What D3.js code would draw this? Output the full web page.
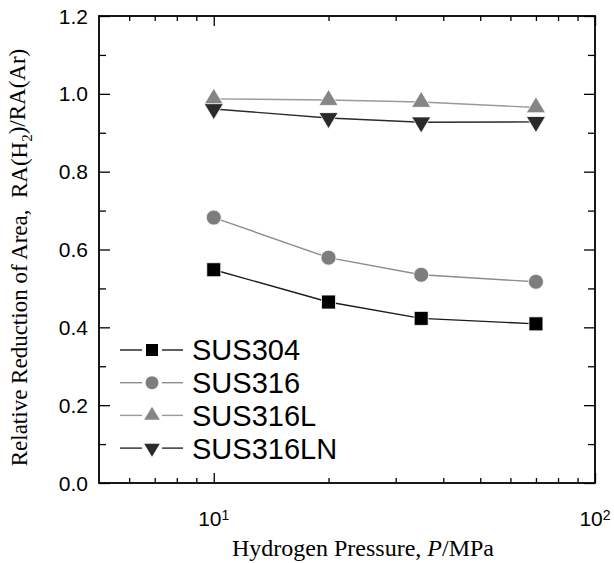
<!DOCTYPE html>
<html>
<head>
<meta charset="utf-8">
<script src="https://cdn.jsdelivr.net/npm/d3@7"></script>
<style>
  body { margin: 0; background: #fff; }
  text { fill: #000; }
</style>
</head>
<body>
<div id="chart"></div>
<script>
// data
var pressure = [10, 20, 35, 70];
var sus304   = [0.548, 0.465, 0.423, 0.409];
var sus316   = [0.682, 0.579, 0.535, 0.517];
var sus316L  = [0.987, 0.984, 0.979, 0.965];
var sus316LN = [0.961, 0.938, 0.927, 0.928];
var seriesNames = ["SUS304", "SUS316", "SUS316L", "SUS316LN"];

var xMajor = [10, 100];
var xMinor = [6, 7, 8, 9, 20, 30, 40, 50, 60, 70, 80, 90];
var yMajor = [0, 0.2, 0.4, 0.6, 0.8, 1.0, 1.2];
var yMinor = [0.1, 0.3, 0.5, 0.7, 0.9, 1.1];

// set the dimensions and margins of the graph
var margin = {top: 16, right: 19, bottom: 80, left: 99},
    width = 614 - margin.left - margin.right,
    height = 563 - margin.top - margin.bottom;

var svg = d3.select("#chart")
  .append("svg")
    .attr("width", width + margin.left + margin.right)
    .attr("height", height + margin.top + margin.bottom)
  .append("g")
    .attr("transform", "translate(" + margin.left + "," + margin.top + ")");

var x = d3.scaleLog().domain([5, 100]).range([0, width]);
var y = d3.scaleLinear().domain([0, 1.2]).range([height, 0]);

// inward ticks on all four sides
function ticks(axis, vals, len) {
  return axis.tickValues(vals).tickSizeInner(-len).tickSizeOuter(0).tickFormat("");
}
function styleAxis(g) {
  g.select(".domain").remove();
  g.selectAll("line").attr("stroke", "#000").attr("stroke-width", 1.3);
}
svg.append("g").attr("transform", "translate(0," + height + ")")
  .call(ticks(d3.axisBottom(x), xMajor, 10)).call(styleAxis);
svg.append("g").attr("transform", "translate(0," + height + ")")
  .call(ticks(d3.axisBottom(x), xMinor, 5)).call(styleAxis);
svg.append("g").call(ticks(d3.axisTop(x), xMajor, 10)).call(styleAxis);
svg.append("g").call(ticks(d3.axisTop(x), xMinor, 5)).call(styleAxis);
svg.append("g").call(ticks(d3.axisLeft(y), yMajor, 11)).call(styleAxis);
svg.append("g").call(ticks(d3.axisLeft(y), yMinor, 7)).call(styleAxis);
svg.append("g").attr("transform", "translate(" + width + ",0)")
  .call(ticks(d3.axisRight(y), yMajor, 11)).call(styleAxis);
svg.append("g").attr("transform", "translate(" + width + ",0)")
  .call(ticks(d3.axisRight(y), yMinor, 7)).call(styleAxis);

// frame
svg.append("rect")
  .attr("width", width).attr("height", height)
  .attr("fill", "none").attr("stroke", "#000").attr("stroke-width", 1.8);

// tick labels
svg.append("g").selectAll("text")
  .data(yMajor).enter().append("text")
    .attr("x", -11)
    .attr("y", d => y(d))
    .attr("dy", "0.36em")
    .attr("text-anchor", "end")
    .style("font-family", "Liberation Sans, Arial, sans-serif")
    .style("font-size", "21px")
    .text(d => d3.format(".1f")(d));

var xl = svg.append("g").selectAll("text")
  .data(xMajor).enter().append("text")
    .attr("x", d => x(d))
    .attr("y", height + 43)
    .attr("text-anchor", "middle")
    .style("font-family", "Liberation Sans, Arial, sans-serif")
    .style("font-size", "21px");
xl.append("tspan").text("10");
xl.append("tspan").attr("dy", "-0.45em").style("font-size", "14px")
  .text(d => Math.round(Math.log10(d)));

// axis titles
var xt = svg.append("text")
  .attr("x", width / 2 + 16)
  .attr("y", height + 73)
  .attr("text-anchor", "middle")
  .style("font-family", "Liberation Serif, Times New Roman, serif")
  .style("font-size", "24px");
xt.append("tspan").text("Hydrogen Pressure, ");
xt.append("tspan").style("font-style", "italic").text("P");
xt.append("tspan").text("/MPa");

var yt = svg.append("text")
  .attr("transform", "translate(" + (-72) + "," + (height / 2 + 8) + ") rotate(-90)")
  .attr("text-anchor", "middle")
  .style("font-family", "Liberation Serif, Times New Roman, serif")
  .style("font-size", "23px");
yt.append("tspan").text("Relative Reduction of Area,\u00a0\u00a0RA(H");
yt.append("tspan").attr("dy", "0.3em").style("font-size", "15px").text("2");
yt.append("tspan").attr("dy", "-0.3em").text(")/RA(Ar)");

// series styles
var series = [
  {name: seriesNames[0], vals: sus304,   shape: "square", fill: "#000",    line: "#1a1a1a"},
  {name: seriesNames[1], vals: sus316,   shape: "circle", fill: "#7d7d7d", line: "#8c8c8c"},
  {name: seriesNames[2], vals: sus316L,  shape: "up",     fill: "#858585", line: "#9a9a9a"},
  {name: seriesNames[3], vals: sus316LN, shape: "down",   fill: "#2a2a2a", line: "#2a2a2a"}
];

function markerPath(shape, s) {
  if (shape === "square") return "M" + (-s/2) + "," + (-s/2) + "h" + s + "v" + s + "h" + (-s) + "Z";
  if (shape === "circle") return d3.symbol(d3.symbolCircle, Math.PI * s * s / 4)();
  var w = s * 1.2, h = s;
  if (shape === "up") return "M0," + (-2*h/3) + "L" + (w/2) + "," + (h/3) + "L" + (-w/2) + "," + (h/3) + "Z";
  return "M0," + (2*h/3) + "L" + (w/2) + "," + (-h/3) + "L" + (-w/2) + "," + (-h/3) + "Z";
}
var markerSize = {square: 14, circle: 15, up: 16, down: 16};

var line = d3.line().x(d => x(d[0])).y(d => y(d[1]));

series.forEach(function(s) {
  var pts = pressure.map((p, i) => [p, s.vals[i]]);
  svg.append("path")
    .datum(pts)
    .attr("d", line)
    .attr("fill", "none")
    .attr("stroke", s.line)
    .attr("stroke-width", 1.4);
  svg.append("g").selectAll("path")
    .data(pts).enter().append("path")
      .attr("transform", d => "translate(" + x(d[0]) + "," + y(d[1]) + ")")
      .attr("d", markerPath(s.shape, markerSize[s.shape]))
      .attr("fill", s.fill)
      .attr("stroke", "#fff")
      .attr("stroke-width", 0.8);
});

// legend
var legend = svg.append("g").attr("transform", "translate(21,334)");
var item = legend.selectAll("g")
  .data(series).enter().append("g")
    .attr("transform", (d, i) => "translate(0," + (i * 32.7) + ")");
item.append("line").attr("x1", 0).attr("x2", 22)
  .attr("stroke", d => d.line).attr("stroke-width", 1.4);
item.append("line").attr("x1", 42).attr("x2", 63)
  .attr("stroke", d => d.line).attr("stroke-width", 1.4);
item.append("path")
  .attr("transform", "translate(32,0)")
  .attr("d", d => markerPath(d.shape, d.shape === "square" ? 12 : 13))
  .attr("fill", d => d.fill);
item.append("text")
  .attr("x", 72)
  .attr("dy", "0.36em")
  .style("font-family", "Liberation Sans, Arial, sans-serif")
  .style("font-size", "29px")
  .text(d => d.name);
</script>
</body>
</html>
